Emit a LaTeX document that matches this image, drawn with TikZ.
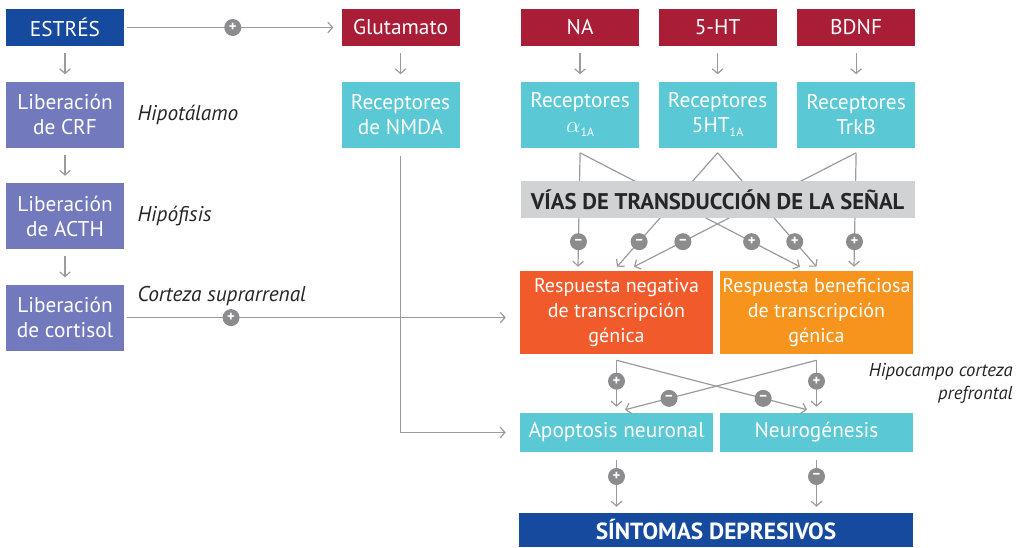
\documentclass[tikz,border=0pt]{standalone}
\usepackage{fontspec}
\setmainfont{PT Sans}
\usetikzlibrary{positioning,calc,arrows.meta}

\definecolor{azul}{HTML}{164A9E}
\definecolor{granate}{HTML}{A91D37}
\definecolor{lila}{HTML}{7279BC}
\definecolor{turquesa}{HTML}{5BC8D6}
\definecolor{barra}{HTML}{D1D2D4}
\definecolor{rojizo}{HTML}{F15A2B}
\definecolor{ambar}{HTML}{F7941D}
\definecolor{grissigno}{HTML}{8C8C8E}
\definecolor{linea}{HTML}{9B9B9B}

\begin{document}
\begin{tikzpicture}[x=0.75pt,y=-0.75pt,
    block/.style={text=white,font=\fontsize{16}{18.75}\selectfont,align=center,inner sep=0pt,minimum width=88.5pt,minimum height=27.75pt},
    tallblock/.style={block,minimum height=49.5pt},
    wideblock/.style={block,minimum width=144.75pt},
    signo/.style={circle,fill=grissigno,text=white,inner sep=0pt,minimum size=12.75pt,font=\bfseries\fontsize{11}{11}\selectfont},
    conn/.style={draw=linea,line width=0.9pt,-{Straight Barb[length=3.5pt,width=8pt]}},
    region/.style={font=\itshape\fontsize{16}{18}\selectfont,text=black!85,inner sep=0pt},
]
    \useasboundingbox (0,0) rectangle (1025,547);
    % eje del estres
    \node[block,fill=azul] (estres) at (65,27.5) {ESTRÉS};
    \node[tallblock,fill=lila,below=26.25pt of estres] (crf) {Liberación\\de CRF};
    \node[tallblock,fill=lila,below=26.25pt of crf] (acth) {Liberación\\de ACTH};
    \node[tallblock,fill=lila,below=26.25pt of acth] (cortisol) {Liberación\\de cortisol};
        \node[region,right=9.75pt of crf] {Hipotálamo};
        \node[region,right=9.75pt of acth] {Hipófisis};
        \node[region,anchor=south west] at ([xshift=9.75pt,yshift=9pt]cortisol.east) {Corteza suprarrenal};
        \path[conn,shorten <=5.25pt,shorten >=5.25pt] (estres.south) -- (crf.north);
        \path[conn,shorten <=5.25pt,shorten >=5.25pt] (crf.south) -- (acth.north);
        \path[conn,shorten <=5.25pt,shorten >=5.25pt] (acth.south) -- (cortisol.north);
    % glutamato y monoaminas
    \node[block,fill=granate,right=162.75pt of estres] (glut) {Glutamato};
    \node[tallblock,fill=turquesa,below=26.25pt of glut] (nmda) {Receptores\\de NMDA};
    \node[block,fill=granate,right=45.75pt of glut] (na) {NA};
    \node[block,fill=granate,right=14.25pt of na] (ht) {5-HT};
    \node[block,fill=granate,right=15pt of ht] (bdnf) {BDNF};
    \node[tallblock,fill=turquesa,below=26.25pt of na] (ralfa) {Receptores\\$\alpha$\raisebox{-0.45ex}{\fontsize{9}{9}\selectfont 1A}};
    \node[tallblock,fill=turquesa,below=26.25pt of ht] (rht) {Receptores\\5HT\raisebox{-0.45ex}{\fontsize{9}{9}\selectfont 1A}};
    \node[tallblock,fill=turquesa,below=26.25pt of bdnf] (rtrkb) {Receptores\\TrkB};
        \path[conn,shorten <=2pt,shorten >=6pt] (estres.east) -- node[signo]{+} (glut.west);
        \path[conn,shorten <=5.25pt,shorten >=5.25pt] (glut.south) -- (nmda.north);
        \path[conn,shorten <=5.25pt,shorten >=5.25pt] (na.south) -- (ralfa.north);
        \path[conn,shorten <=5.25pt,shorten >=5.25pt] (ht.south) -- (rht.north);
        \path[conn,shorten <=5.25pt,shorten >=5.25pt] (bdnf.south) -- (rtrkb.north);
    % respuestas
    \node[wideblock,fill=rojizo,minimum height=62.25pt,font=\fontsize{15}{18.75}\selectfont] (neg) at (616.5,312.5) {Respuesta negativa\\de transcripción\\génica};
    \node[wideblock,fill=ambar,minimum height=62.25pt,font=\fontsize{15}{18.75}\selectfont] (pos) at (816.5,312.5) {Respuesta beneficiosa\\de transcripción\\génica};
    \node[wideblock,fill=turquesa,minimum height=29.25pt] (apo) at (616.5,432.5) {Apoptosis neuronal};
    \node[wideblock,fill=turquesa,minimum height=29.25pt] (neu) at (816.5,432.5) {Neurogénesis};
    \node[block,fill=azul,minimum width=295.5pt,minimum height=25.5pt,font=\fontsize{17.5}{18.75}\selectfont\bfseries] (sint) at (716,530) {SÍNTOMAS DEPRESIVOS};
        \node[region,align=right,anchor=east,font=\itshape\fontsize{14}{17}\selectfont] at (1013,383) {Hipocampo corteza\\prefrontal};
    % salidas de los receptores
    \coordinate (ra) at ($(ralfa.south)+(0,5)$);
    \coordinate (rh) at ($(rht.south)+(0,5)$);
    \coordinate (rt) at ($(rtrkb.south)+(0,5)$);
    \coordinate (n1) at ($(neg.north)+(-38.5,-4)$);
    \coordinate (n2) at ($(neg.north)+(0.5,-4)$);
    \coordinate (n3) at ($(neg.north)+(17.5,-4)$);
    \coordinate (p1) at ($(pos.north)+(-16.5,-4)$);
    \coordinate (p2) at ($(pos.north)+(0,-4)$);
    \coordinate (p3) at ($(pos.north)+(37.5,-4)$);
        \path[conn] (ra) -- node[signo,pos=.78]{–} (n1);
        \path[conn] (ra) -- node[signo,pos=.78]{+} (p1);
        \path[conn] (rh) -- node[signo,pos=.78]{–} (n2);
        \path[conn] (rh) -- node[signo,pos=.78]{+} (p2);
        \path[conn] (rt) -- node[signo,pos=.78]{–} (n3);
        \path[conn] (rt) -- node[signo,pos=.78]{+} (p3);
    \node[fill=barra,minimum width=295.5pt,minimum height=27.75pt,inner sep=0pt,text=black!85,font=\fontsize{17}{18.75}\selectfont\bfseries,below=24.75pt of rht] (vias) {VÍAS DE TRANSDUCCIÓN DE LA SEÑAL};
    % de la respuesta al efecto
    \coordinate (nb) at ($(neg.south)+(0,6)$);
    \coordinate (pb) at ($(pos.south)+(0,6)$);
    \coordinate (a1) at ($(apo.north)+(0,-6)$);
    \coordinate (a2) at ($(apo.north)+(8.5,-3)$);
    \coordinate (g1) at ($(neu.north)+(-9.5,-3)$);
    \coordinate (g2) at ($(neu.north)+(0,-6)$);
        \path[conn] (nb) -- node[signo,pos=.45]{+} (a1);
        \path[conn] (nb) -- node[signo,pos=.77]{–} (g1);
        \path[conn] (pb) -- node[signo,pos=.45]{+} (g2);
        \path[conn] (pb) -- node[signo,pos=.77]{–} (a2);
        \path[conn,shorten <=2pt,shorten >=10.5pt] (cortisol.east) -- node[signo,pos=.27]{+} (cortisol.east -| neg.west);
        \path[conn,shorten <=6pt,shorten >=10.5pt] (nmda.south) |- (apo.west);
        \path[conn,shorten <=6pt,shorten >=4.5pt] (apo.south) -- node[signo,pos=.4]{+} (apo.south |- sint.north);
        \path[conn,shorten <=6pt,shorten >=4.5pt] (neu.south) -- node[signo,pos=.4]{–} (neu.south |- sint.north);
\end{tikzpicture}
\end{document}
